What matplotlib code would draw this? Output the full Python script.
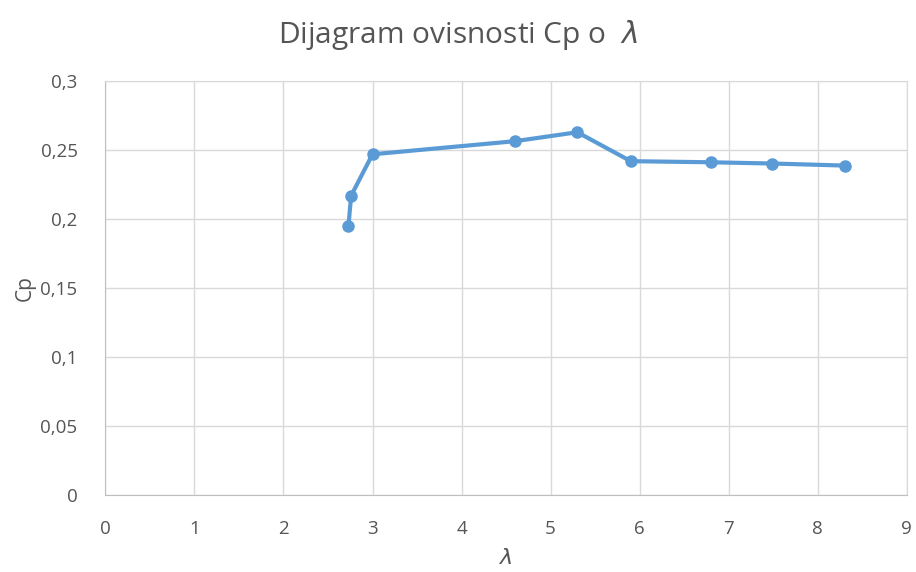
import matplotlib.pyplot as plt
from matplotlib.ticker import FuncFormatter, MultipleLocator

# omjer brzine vrha lopatice i koeficijent snage
lam = [2.73, 2.76, 3.0, 4.6, 5.3, 5.9, 6.8, 7.49, 8.31]
cp = [0.195, 0.217, 0.247, 0.2565, 0.263, 0.242, 0.2412, 0.2403, 0.2388]

plt.rcParams['font.family'] = ['Open Sans', 'DejaVu Sans']
txt = '#555555'

fig = plt.figure(figsize=(9.16, 5.72), dpi=100)
ax = fig.add_axes([0.115, 0.135, 0.875, 0.723])

ax.plot(lam, cp, color='#5B9BD5', linewidth=3, marker='o', markersize=8,
        solid_capstyle='round', zorder=3)

ax.set_xlim(0, 9)
ax.set_ylim(0, 0.3)
ax.xaxis.set_major_locator(MultipleLocator(1))
ax.yaxis.set_major_locator(MultipleLocator(0.05))

def comma(v, pos):
    s = f"{v:.2f}".rstrip('0').rstrip('.')
    return s.replace('.', ',')

ax.yaxis.set_major_formatter(FuncFormatter(comma))
ax.xaxis.set_major_formatter(FuncFormatter(comma))

ax.grid(True, color='#D9D9D9', linewidth=1)
ax.set_axisbelow(True)
for side in ['top', 'right']:
    ax.spines[side].set_color('#D9D9D9')
for side in ['left', 'bottom']:
    ax.spines[side].set_color('#BFBFBF')
ax.tick_params(length=0, labelsize=13.5, labelcolor=txt)
ax.tick_params(axis='x', pad=18)
ax.tick_params(axis='y', pad=20)

ax.set_ylabel('Cp', fontsize=15, color=txt, va='center')
ax.yaxis.set_label_coords(-0.1, 0.5)
ax.set_xlabel(r'$\lambda$', fontsize=16, color=txt, va='center')
ax.xaxis.set_label_coords(0.5, -0.155)
fig.text(0.5, 0.939, r'Dijagram ovisnosti Cp o  $\lambda$', fontsize=21.5,
         color=txt, ha='center', va='center')

fig.savefig('out.png', dpi=100)
